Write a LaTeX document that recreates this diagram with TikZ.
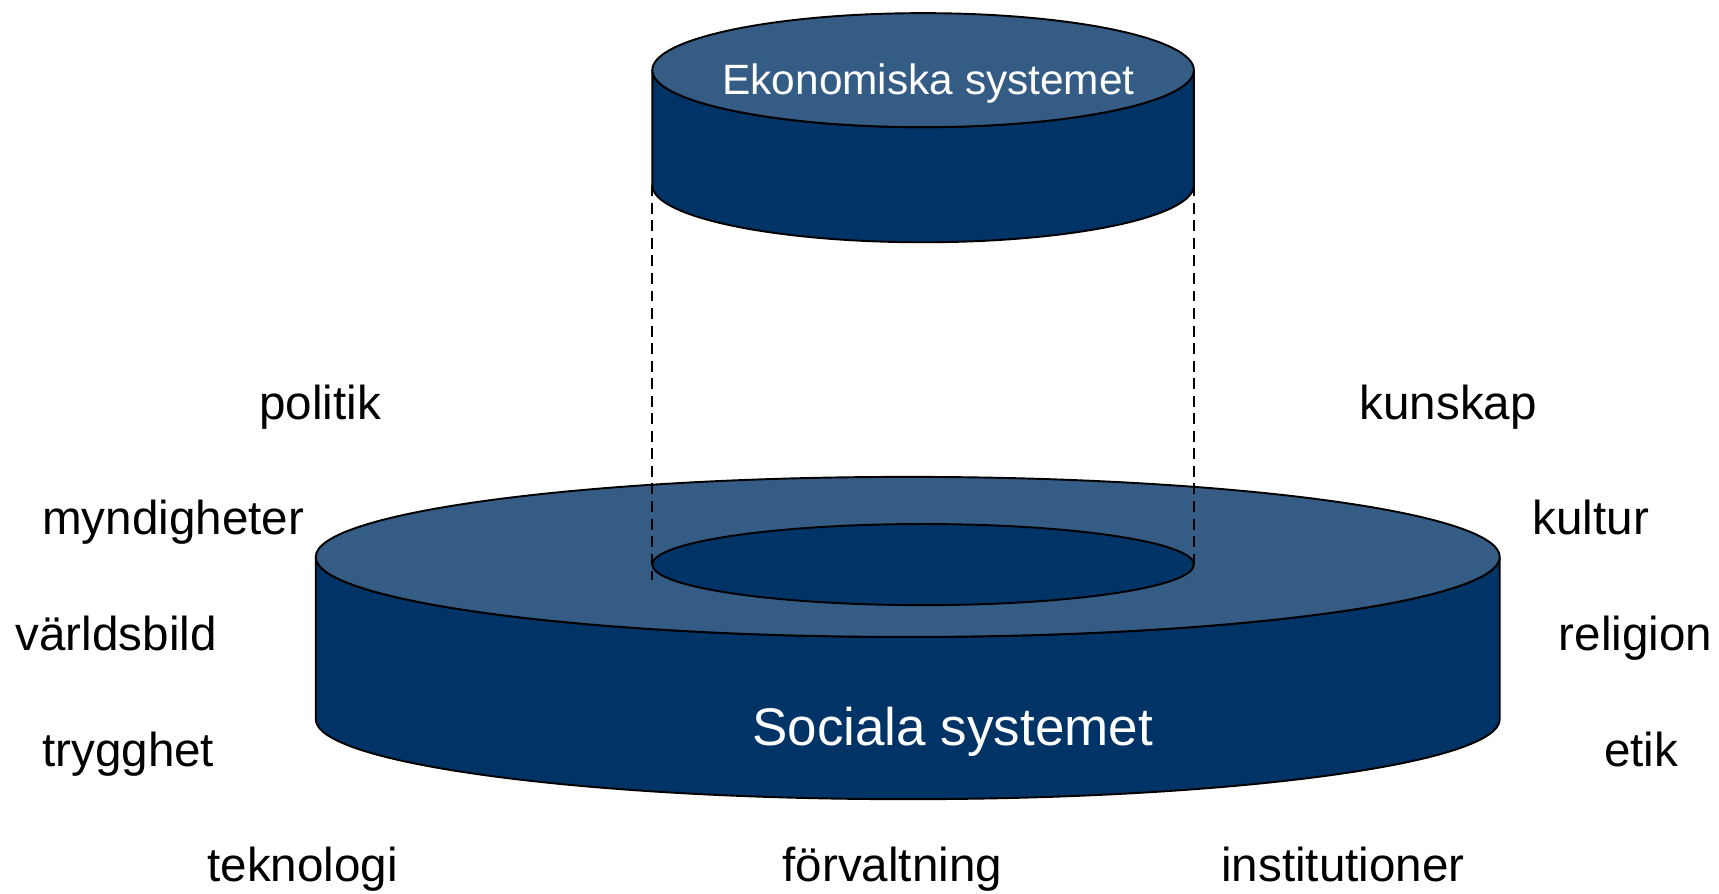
\documentclass[tikz,border=0pt]{standalone}
\usepackage{fontspec}
\setmainfont{Liberation Sans}
\usepackage{tikz}
\usetikzlibrary{calc}
\definecolor{disktop}{RGB}{52,92,133}
\definecolor{diskside}{RGB}{0,51,102}

\begin{document}
\begin{tikzpicture}[x=0.2mm,y=0.2mm,
	lbl/.style={anchor=base,inner sep=0pt,font=\fontsize{24.7}{30}\selectfont},
	face/.style={fill=disktop,draw=black,line width=0.35mm},
	side/.style={fill=diskside,draw=black,line width=0.35mm}]
	\useasboundingbox (0,0) rectangle (1568,815);
	% large disk (social system)
	\draw [side] (288,307) -- (288,159) arc[start angle=180,end angle=360,x radius=540,y radius=73]
		-- (1368,307) arc[start angle=0,end angle=-180,x radius=540,y radius=73] -- cycle;
	\draw [face] (828,307) ellipse [x radius=540,y radius=73];
	\draw [side] (842,300) ellipse [x radius=247,y radius=37];
	\node [lbl,text=white,font=\fontsize{27.5}{33}\selectfont] (soc) at (869,135) {Sociala systemet};
	% dashed guides
	\coordinate (tl) at (595,646);
	\coordinate (tr) at (1089,646);
	\coordinate (bl) at (595,286);
	\coordinate (br) at (1089,296);
	\draw [dashed,line width=0.3mm,dash pattern=on 2mm off 1.2mm] (tl) -- (bl);
	\draw [dashed,line width=0.3mm,dash pattern=on 2mm off 1.2mm] (tr) -- (br);
	% small cylinder (economic system)
	\draw [side] (595,751) -- (595,646) arc[start angle=180,end angle=360,x radius=247,y radius=52]
		-- (1089,751) arc[start angle=0,end angle=-180,x radius=247,y radius=52] -- cycle;
	\draw [face] (842,751) ellipse [x radius=247,y radius=52];
	\node [lbl,text=white,font=\fontsize{22}{26}\selectfont] (eko) at (847,729) {Ekonomiska systemet};
	% labels round the disk
	\node [lbl] (pol) at (292,432) {politik};
	\node [lbl] (kun) at (1321,432) {kunskap};
	\node [lbl] (myn) at (158,327) {myndigheter};
	\node [lbl] (kul) at (1451,327) {kultur};
	\node [lbl] (var) at (106,222) {världsbild};
	\node [lbl] (rel) at (1492,222) {religion};
	\node [lbl] (try) at (117,116) {trygghet};
	\node [lbl] (eti) at (1497,116) {etik};
	\node [lbl] (tek) at (276,11) {teknologi};
	\node [lbl] (for) at (814,11) {förvaltning};
	\node [lbl] (ins) at (1225,11) {institutioner};
\end{tikzpicture}
\end{document}
